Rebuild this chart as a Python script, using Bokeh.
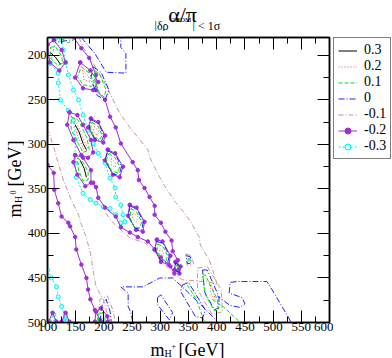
from bokeh.plotting import figure
from bokeh.layouts import column, row
from bokeh.models import (Range1d, LinearAxis, SingleIntervalTicker, Label, Legend, LegendItem)
from bokeh.embed import file_html
from bokeh.resources import INLINE

FONT = "Liberation Serif"

# ---------------- data (m_H+ [GeV], m_H0 [GeV]) ----------------
levels = ["0.3", "0.2", "0.1", "0", "-0.1", "-0.2", "-0.3"]

# level 0.3 (black)
k1_x = [105, 114, 123]; k1_y = [197, 202, 210]
k2_x = [149, 156, 163, 169]; k2_y = [278, 286, 299, 306]
k3_x = [158, 165, 169]; k3_y = [318, 327, 337]

# level 0.2 (red)
r1_x = [162, 172, 176, 165, 162]; r1_y = [217, 223, 230, 228, 217]
r2_x = [183, 191, 188, 181, 183]; r2_y = [280, 285, 290, 285, 280]
r3_x = [213, 221, 220, 213, 213]; r3_y = [316, 321, 326, 323, 316]
r4_x = [251, 260, 258, 251, 251]; r4_y = [376, 381, 387, 383, 376]
r5_x = [299, 306, 304, 299, 299]; r5_y = [417, 421, 425, 423, 417]
r6_x = [387, 394, 397, 390, 387]; r6_y = [455, 463, 474, 468, 455]
r7_x = [147, 152, 158, 165, 171, 168, 160, 152, 147]; r7_y = [274, 276, 285, 296, 304, 309, 300, 288, 274]

# level 0.1 (green)
g1_x = [105, 114, 125, 127, 118, 105, 105]; g1_y = [191, 190, 201, 209, 211, 203, 191]
g2_x = [160, 174, 183, 178, 163, 153, 160]; g2_y = [213, 220, 230, 235, 233, 224, 213]
g3_x = [184, 193, 204, 200, 191, 183, 184]; g3_y = [217, 222, 239, 247, 241, 226, 217]
g4_x = [142, 155, 170, 174, 163, 142, 142]; g4_y = [269, 273, 293, 306, 309, 284, 269]
g5_x = [153, 163, 172, 172, 163, 155, 153]; g5_y = [315, 320, 331, 340, 341, 329, 315]
g6_x = [179, 190, 197, 193, 183, 176, 179]; g6_y = [275, 280, 290, 294, 292, 282, 275]
g7_x = [209, 220, 228, 225, 214, 204, 209]; g7_y = [310, 315, 325, 332, 330, 318, 310]
g8_x = [248, 258, 267, 264, 253, 246, 248]; g8_y = [372, 376, 387, 394, 392, 382, 372]
g9_x = [295, 304, 313, 310, 301, 294, 295]; g9_y = [412, 414, 425, 431, 428, 420, 412]
g10_x = [329, 332, 331, 327, 329]; g10_y = [435, 437, 442, 439, 435]
g11_x = [350, 353, 352, 349, 350]; g11_y = [428, 429, 432, 431, 428]
g12_x = [190, 191, 197, 202, 202]; g12_y = [499, 490, 488, 495, 499]
g13_x = [348, 364, 378]; g13_y = [458, 474, 499]
g14_x = [375, 380, 401, 403, 396, 380, 375]; g14_y = [446, 447, 474, 486, 487, 469, 446]
g15_x = [392, 413, 440]; g15_y = [474, 483, 499]
g16_x = [126, 137, 148]; g16_y = [181, 186, 182]

# level 0 (blue)
b1_x = [160, 172, 184, 204, 239, 239, 230, 230]; b1_y = [180, 189, 198, 219, 220, 198, 191, 180]
b2_x = [107, 119, 139, 142]; b2_y = [180, 185, 183, 180]
b3_x = [181, 195, 209, 202, 188, 177, 181]; b3_y = [213, 219, 239, 250, 245, 226, 213]
b4_x = [177, 191, 200, 196, 184, 174, 177]; b4_y = [272, 277, 290, 296, 294, 281, 272]
b5_x = [207, 221, 231, 227, 215, 202, 207]; b5_y = [307, 312, 325, 335, 333, 318, 307]
b6_x = [246, 259, 270, 267, 255, 243, 246]; b6_y = [369, 373, 387, 396, 394, 381, 369]
b7_x = [293, 305, 316, 313, 300, 291, 293]; b7_y = [409, 411, 425, 433, 430, 419, 409]
b8_x = [327, 335, 334, 326, 327]; b8_y = [433, 437, 444, 441, 433]
b9_x = [346, 353, 355, 348, 346]; b9_y = [425, 426, 433, 434, 425]
b10_x = [251, 248, 243, 243, 230, 269, 299, 322, 339, 357, 375, 392, 401]
b10_y = [499, 489, 482, 467, 460, 460, 450, 450, 460, 471, 482, 493, 499]
b11_x = [295, 301, 322, 316, 295, 295]; b11_y = [472, 469, 489, 497, 480, 472]
b12_x = [531, 528, 498, 489, 436, 424, 422, 445, 450, 441, 424, 401]
b12_y = [499, 495, 463, 454, 454, 455, 467, 472, 479, 483, 481, 470]
b13_x = [339, 350, 380, 375, 362, 336, 339]; b13_y = [458, 455, 486, 495, 493, 465, 458]
b14_x = [375, 383, 404, 404, 396, 378, 375]; b14_y = [441, 441, 471, 483, 486, 465, 441]
b15_x = [193, 197, 204, 211, 213]; b15_y = [499, 480, 474, 488, 499]

# level -0.1 (brown)
n1_x = [100, 111, 119, 128, 142, 155, 160, 169, 176, 181, 186, 199, 207, 211]
n1_y = [282, 303, 321, 340, 362, 379, 390, 405, 422, 441, 460, 474, 493, 499]
n2_x = [156, 163, 181, 199, 211, 228, 246, 264, 278, 281, 299, 309, 327, 339, 352, 369, 371,
        387, 397, 401, 392, 375, 339, 316, 292, 274, 246, 216, 202]
n2_y = [180, 191, 209, 228, 243, 265, 281, 295, 306, 314, 337, 348, 365, 374, 385, 404, 413,
        430, 449, 458, 455, 454, 452, 441, 422, 411, 405, 388, 376]
n3_x = [366, 383, 408, 410, 392, 366, 366]; n3_y = [439, 437, 463, 488, 491, 463, 439]
n4_x = [345, 355, 359, 348, 345]; n4_y = [423, 425, 434, 436, 423]
n5_x = [188, 193, 206, 216, 220]; n5_y = [499, 474, 470, 486, 499]

# level -0.2 (violet)
p1_x = [146, 160, 174, 186, 186, 202, 211, 221, 230, 251, 260, 262, 272, 281, 290, 290, 301, 309,
        320, 322, 331, 332, 325, 318, 301, 290, 278, 260, 246, 230, 221, 202, 190, 186, 181]
p1_y = [180, 192, 203, 222, 239, 250, 269, 281, 299, 320, 329, 340, 349, 359, 369, 379, 388, 398,
        408, 420, 430, 441, 445, 437, 427, 418, 409, 404, 399, 393, 381, 371, 360, 348, 343]
p2_x = [100, 111, 112, 119, 125, 137, 140, 149, 151, 160, 169, 172, 176, 184, 193, 195]
p2_y = [323, 332, 351, 366, 381, 388, 392, 404, 418, 435, 450, 463, 474, 486, 497, 499]
p3_x = [100, 111, 125, 132, 121, 104, 100]; p3_y = [188, 183, 194, 208, 217, 208, 188]
p4_x = [158, 176, 190, 181, 163, 149, 158]; p4_y = [208, 217, 230, 239, 237, 225, 208]
p5_x = [139, 153, 163, 177, 181, 172, 160, 146, 135, 139]; p5_y = [264, 267, 278, 295, 309, 315, 312, 295, 278, 264]
p6_x = [149, 163, 177, 177, 167, 153, 146, 149]; p6_y = [312, 315, 329, 343, 347, 334, 320, 312]
p7_x = [177, 190, 202, 199, 184, 172, 177]; p7_y = [271, 275, 290, 298, 295, 281, 271]
p8_x = [207, 220, 234, 228, 216, 202, 207]; p8_y = [306, 310, 325, 337, 334, 318, 306]
p9_x = [246, 258, 272, 269, 257, 243, 246]; p9_y = [368, 371, 387, 398, 396, 380, 368]
p10_x = [294, 304, 318, 315, 301, 290, 294]; p10_y = [407, 409, 425, 435, 432, 418, 407]
p11_x = [327, 336, 334, 325, 327]; p11_y = [432, 437, 445, 441, 432]
p12_x = [184, 186, 195, 206, 207]; p12_y = [499, 488, 484, 493, 499]
p13_x = [102, 109, 116]; p13_y = [499, 489, 499]
p14_x = [125, 132, 139]; p14_y = [499, 489, 499]

# level -0.3 (cyan)
c1_x = [116, 105, 119, 119, 123, 137, 146, 149, 149, 151, 163, 176, 186, 199, 211, 221, 230, 237,
        234, 230, 221, 220, 211, 202, 190, 181, 172, 163, 155, 146, 137, 132, 128, 125, 125]
c1_y = [180, 209, 220, 231, 250, 262, 273, 295, 321, 337, 355, 362, 366, 370, 372, 379, 388, 387,
        379, 368, 359, 349, 338, 321, 310, 299, 284, 267, 250, 239, 222, 208, 194, 183, 180]
c2_x = [100, 107, 116, 119, 125, 132, 132]; c2_y = [441, 450, 460, 471, 482, 497, 499]
c3_x = [104, 111, 114]; c3_y = [499, 491, 499]
c4_x = [128, 132, 135]; c4_y = [499, 492, 499]

CYAN = "#00f0f0"
VIOLET = "#9b30d8"
BROWN = "#c49a94"

# style per level: (color, dash, markers, marker fill, marker size)
STYLES = {
    "0.3": ("black", "solid", False, None, 0),
    "0.2": ("#ff5050", "1 2", False, None, 0),
    "0.1": ("#00e000", "4 2", False, None, 0),
    "0": ("#2020ff", "6 2 1 2", False, None, 0),
    "-0.1": (BROWN, "5 2 1 2", False, None, 0),
    "-0.2": (VIOLET, "solid", True, VIOLET, 3.5),
    "-0.3": (CYAN, "2 2", True, "#c8ffff", 4),
}

PIECES = {
    "-0.3": [(c1_x, c1_y), (c2_x, c2_y), (c3_x, c3_y), (c4_x, c4_y)],
    "-0.1": [(n1_x, n1_y), (n2_x, n2_y), (n3_x, n3_y), (n4_x, n4_y), (n5_x, n5_y)],
    "-0.2": [(p1_x, p1_y), (p2_x, p2_y), (p3_x, p3_y), (p4_x, p4_y), (p5_x, p5_y),
             (p6_x, p6_y), (p7_x, p7_y), (p8_x, p8_y), (p9_x, p9_y), (p10_x, p10_y),
             (p11_x, p11_y), (p12_x, p12_y), (p13_x, p13_y), (p14_x, p14_y)],
    "0": [(b1_x, b1_y), (b2_x, b2_y), (b3_x, b3_y), (b4_x, b4_y), (b5_x, b5_y),
          (b6_x, b6_y), (b7_x, b7_y), (b8_x, b8_y), (b9_x, b9_y), (b10_x, b10_y),
          (b11_x, b11_y), (b12_x, b12_y), (b13_x, b13_y), (b14_x, b14_y), (b15_x, b15_y)],
    "0.1": [(g1_x, g1_y), (g2_x, g2_y), (g3_x, g3_y), (g4_x, g4_y), (g5_x, g5_y),
            (g6_x, g6_y), (g7_x, g7_y), (g8_x, g8_y), (g9_x, g9_y), (g10_x, g10_y),
            (g11_x, g11_y), (g12_x, g12_y), (g13_x, g13_y), (g14_x, g14_y), (g15_x, g15_y),
            (g16_x, g16_y)],
    "0.2": [(r1_x, r1_y), (r2_x, r2_y), (r3_x, r3_y), (r4_x, r4_y), (r5_x, r5_y),
            (r6_x, r6_y), (r7_x, r7_y)],
    "0.3": [(k1_x, k1_y), (k2_x, k2_y), (k3_x, k3_y)],
}
DRAW_ORDER = ["-0.3", "-0.1", "-0.2", "0", "0.1", "0.2", "0.3"]

# ---------------- main figure ----------------
p = figure(width=309, height=306, x_range=Range1d(100, 600), y_range=Range1d(500, 180),
           output_backend="svg", toolbar_location=None,
           x_axis_location=None, y_axis_location=None,
           min_border_left=20, min_border_right=4, min_border_top=6, min_border_bottom=15)
p.grid.visible = False
p.outline_line_color = "black"
p.outline_line_width = 1.5


def make_axis(labels):
    ax = LinearAxis(ticker=SingleIntervalTicker(interval=50, num_minor_ticks=2))
    ax.major_tick_in = 12
    ax.major_tick_out = 0
    ax.minor_tick_in = 6
    ax.minor_tick_out = 0
    ax.axis_line_color = "black"
    ax.axis_line_width = 1.5
    ax.major_tick_line_color = "black"
    ax.minor_tick_line_color = "black"
    if labels:
        ax.major_label_text_font = FONT
        ax.major_label_text_font_size = "13px"
        ax.major_label_text_color = "black"
    else:
        ax.major_label_text_font_size = "1px"
        ax.major_label_text_color = None
        ax.major_label_standoff = 0
    return ax


ax_b = make_axis(True); ax_b.major_label_standoff = 0
ax_l = make_axis(True); ax_l.major_label_standoff = 1
ax_l.major_label_text_font_size = "12.5px"
p.add_layout(ax_b, "below")
p.add_layout(ax_l, "left")
p.add_layout(make_axis(False), "above")
p.add_layout(make_axis(False), "right")


def draw(fig, level, pieces):
    color, dash, marker, fill, size = STYLES[level]
    xs = [a for a, b in pieces]
    ys = [b for a, b in pieces]
    rs = [fig.multi_line(xs, ys, line_color=color, line_width=1, line_dash=dash)]
    if marker:
        mx = [v for a, b in pieces for v in a]
        my = [v for a, b in pieces for v in b]
        rs.append(fig.scatter(mx, my, marker="circle", size=size, line_color=color,
                              fill_color=fill, line_width=1))
    return rs


for lev in DRAW_ORDER:
    draw(p, lev, PIECES[lev])


# ---------------- text / legend panels ----------------
# (frames of the panels in the middle row are aligned with the main plot frame)
def text_fig(w, h):
    f = figure(width=w, height=h, x_range=Range1d(0, w), y_range=Range1d(0, h),
               output_backend="svg", toolbar_location=None, min_border=0,
               x_axis_location=None, y_axis_location=None)
    f.grid.visible = False
    f.outline_line_color = None
    return f


# legend panel: its renderers hold the same contour data, which lies outside
# this panel's own ranges, so only the legend samples are seen
lg = text_fig(59, 306)
legend_items = []
for lev in levels:
    legend_items.append(LegendItem(label=lev, renderers=draw(lg, lev, PIECES[lev])))
legend = Legend(items=legend_items, location=(0, 163))
legend.label_text_font = FONT
legend.label_text_font_size = "14px"
legend.label_text_color = "black"
legend.glyph_width = 19
legend.glyph_height = 15
legend.label_height = 15
legend.spacing = 0
legend.padding = 4
legend.label_standoff = 7
legend.margin = 0
legend.border_line_color = "black"
legend.border_line_width = 1
legend.background_fill_alpha = 1.0
lg.add_layout(legend)


def lab(f, x, y, text, size, angle=0.0, align="left", baseline="alphabetic"):
    f.add_layout(Label(x=x, y=y, x_units="screen", y_units="screen", text=text,
                       text_font=FONT, text_font_size=size, text_color="black",
                       text_align=align, text_baseline=baseline, angle=angle))


top = text_fig(392, 31)
lab(top, 182, 17, "α/π", "22px", align="center")
lab(top, 154, 6, "|δρ", "12px")
lab(top, 171, 12, "2HDM", "7px")
lab(top, 192, 6, "| < 1σ", "12px")

yl = text_fig(24, 306)
ANG = 1.5707963
lab(yl, 14, 112, "m", "18px", angle=ANG, align="center", baseline="middle")
lab(yl, 18, 123, "H", "10px", angle=ANG, align="center", baseline="middle")
lab(yl, 12, 130, "0", "8px", angle=ANG, align="center", baseline="middle")
lab(yl, 14, 159, "[GeV]", "18px", angle=ANG, align="center", baseline="middle")

bot = text_fig(392, 21)
lab(bot, 150, 9, "m", "18px")
lab(bot, 164, 5, "H", "10px")
lab(bot, 171, 13, "+", "8px")
lab(bot, 178, 9, "[GeV]", "18px")

layout = column(top, row(yl, p, lg), bot)
open("out.html", "w").write(file_html(layout, INLINE))
